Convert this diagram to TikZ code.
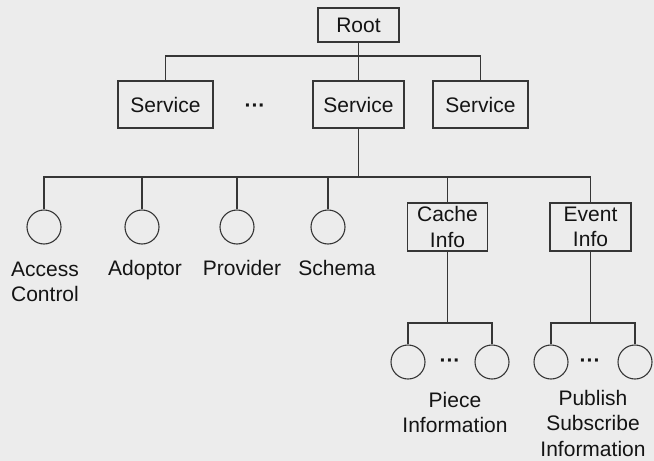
\documentclass[tikz,border=0pt]{standalone}
\usepackage{fontspec}
\setmainfont{Liberation Sans}
\definecolor{paper}{HTML}{ECECEC}
\definecolor{ink}{HTML}{363636}
\definecolor{txt}{HTML}{141414}
\begin{document}
\begin{tikzpicture}[x=1pt,y=-1pt,
  every node/.style={font=\fontsize{21}{25.5}\selectfont, text=txt},
  box/.style={draw=ink, line width=1.2pt, fill=paper, inner sep=0pt, align=center, minimum height=#1},
  box/.default=47pt,
  leaf/.style={draw=ink, line width=1.1pt, circle, minimum size=34pt, inner sep=0pt},
  lbl/.style={align=center, anchor=base, inner sep=0pt},
  gap/.style={font=\fontsize{21}{25.5}\selectfont\bfseries, inner sep=0pt},
  wire/.style={draw=ink, line width=1.2pt}]
  % background
  \fill[paper] (0,0) rectangle (654,461);
  \useasboundingbox (0,0) rectangle (654,461);

  % top levels
  \node[box=34pt, minimum width=81pt] (root) at (358.5,25) {Root};
  \node[box, minimum width=95pt] (s1) at (165.5,104.5) {Service};
  \node[gap] (dots1) at (255,108) {···};
  \node[box, minimum width=91pt] (s2) at (358.5,104.5) {Service};
  \node[box, minimum width=95pt] (s3) at (480.5,104.5) {Service};
  \coordinate (bus1) at (358.5,56);
  \draw[wire] (root.south) -- (bus1);
  \draw[wire] (s1.north) |- (bus1) -| (s3.north);
  \draw[wire] (bus1) -- (s2.north);

  % service children
  \node[leaf] (ac) at (44,227) {};
  \node[leaf] (ad) at (142,227) {};
  \node[leaf] (pr) at (237,227) {};
  \node[leaf] (sc) at (328,227) {};
  \node[box=48pt, minimum width=80pt] (cache) at (447.5,227) {Cache\\Info};
  \node[box=48pt, minimum width=81pt] (event) at (590.5,227) {Event\\Info};
  \coordinate (bus2) at (358.5,177);
  \draw[wire] (s2.south) -- (bus2);
  \draw[wire] (ac.north) |- (bus2) -| (event.north);
  \foreach \n in {ad,pr,sc,cache} \draw[wire] (\n.north) -- (\n.north |- bus2);

  % labels: the base anchor sits on the last line's baseline
  \node[lbl] (acl) at (45,301.5) {Access\\Control};
  \node[lbl] (adl) at (145,275.5) {Adoptor};
  \node[lbl] (prl) at (242,275.5) {Provider};
  \node[lbl] (scl) at (337,275.5) {Schema};

  % cache info children
  \node[leaf] (p1) at (408,362) {};
  \node[leaf] (p2) at (492,362) {};
  \node[gap] (dots2) at (450,363) {···};
  \coordinate (bus3) at (447.5,323);
  \draw[wire] (cache.south) -- (bus3);
  \draw[wire] (p1.north) |- (bus3) -| (p2.north);
  \node[lbl] (pl) at (455,432.5) {Piece\\Information};

  % event info children
  \node[leaf] (e1) at (551,362) {};
  \node[leaf] (e2) at (635,362) {};
  \node[gap] (dots3) at (590,363) {···};
  \coordinate (bus4) at (590.5,323);
  \draw[wire] (event.south) -- (bus4);
  \draw[wire] (e1.north) |- (bus4) -| (e2.north);
  \node[lbl] (el) at (593,456) {Publish\\Subscribe\\Information};
\end{tikzpicture}
\end{document}
